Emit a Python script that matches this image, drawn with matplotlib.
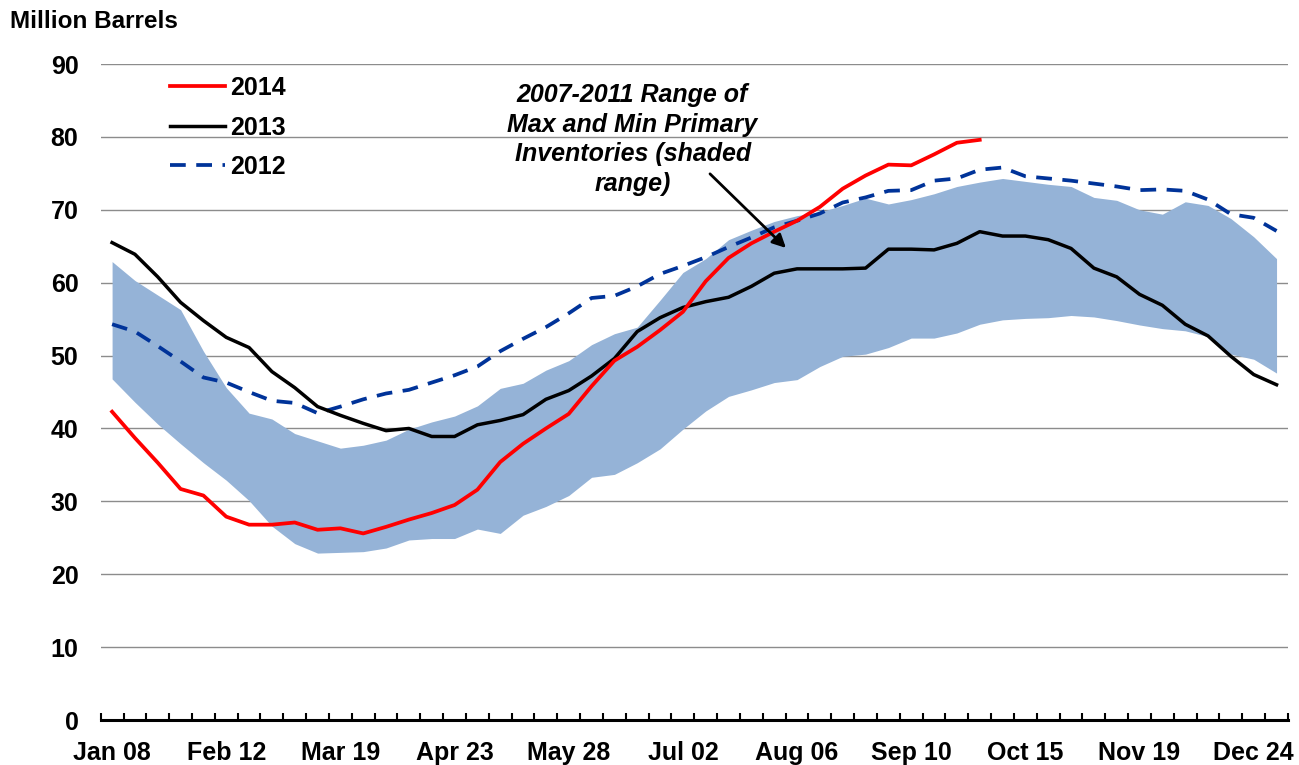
import numpy as np
import matplotlib.pyplot as plt

# weekly primary inventories, million barrels (52 weeks, Jan 08 .. Dec 31)
tick_labels = ['Jan 08', 'Feb 12', 'Mar 19', 'Apr 23', 'May 28', 'Jul 02',
               'Aug 06', 'Sep 10', 'Oct 15', 'Nov 19', 'Dec 24']

range_max = [62.9, 60.3, 58.3, 56.3, 50.6, 45.6, 42.1, 41.3, 39.3, 38.3,
             37.3, 37.7, 38.4, 39.9, 40.9, 41.7, 43.1, 45.5, 46.2, 48.0,
             49.3, 51.5, 53.0, 53.9, 57.6, 61.4, 63.3, 65.9, 67.2, 68.4,
             69.2, 69.7, 70.6, 71.6, 70.8, 71.4, 72.2, 73.2, 73.8, 74.3,
             73.9, 73.5, 73.2, 71.7, 71.3, 70.0, 69.4, 71.1, 70.6, 68.8,
             66.3, 63.3]
range_min = [46.8, 43.6, 40.6, 37.9, 35.3, 32.9, 30.1, 26.6, 24.2, 22.9,
             23.0, 23.1, 23.6, 24.7, 24.9, 24.9, 26.2, 25.6, 28.1, 29.3,
             30.8, 33.3, 33.7, 35.3, 37.2, 39.9, 42.4, 44.4, 45.3, 46.3,
             46.7, 48.5, 49.9, 50.2, 51.1, 52.4, 52.4, 53.1, 54.3, 54.9,
             55.1, 55.2, 55.5, 55.3, 54.8, 54.2, 53.7, 53.4, 52.6, 50.2,
             49.5, 47.6]

inv_2014 = [42.3, 38.7, 35.3, 31.7, 30.8, 27.9, 26.8, 26.8, 27.1, 26.1,
            26.3, 25.6, 26.5, 27.5, 28.4, 29.5, 31.6, 35.4, 37.9, 40.0,
            42.0, 45.8, 49.3, 51.2, 53.5, 56.0, 60.2, 63.4, 65.4, 67.0,
            68.5, 70.4, 72.9, 74.7, 76.2, 76.1, 77.6, 79.2, 79.6]
inv_2013 = [65.5, 63.9, 60.8, 57.3, 54.8, 52.5, 51.1, 47.8, 45.6, 43.0,
            41.8, 40.7, 39.7, 40.0, 38.9, 38.9, 40.5, 41.1, 41.9, 44.0,
            45.2, 47.2, 49.6, 53.3, 55.2, 56.6, 57.4, 58.0, 59.5, 61.3,
            61.9, 61.9, 61.9, 62.0, 64.6, 64.6, 64.5, 65.4, 67.0, 66.4,
            66.4, 65.9, 64.7, 62.0, 60.8, 58.4, 56.9, 54.3, 52.7, 49.9,
            47.4, 46.0]
inv_2012 = [54.3, 53.3, 51.3, 49.2, 47.0, 46.3, 45.0, 43.8, 43.5, 42.1,
            43.0, 44.0, 44.8, 45.3, 46.3, 47.3, 48.5, 50.6, 52.3, 53.9,
            55.8, 57.9, 58.2, 59.5, 61.2, 62.3, 63.5, 64.9, 66.2, 67.6,
            68.5, 69.5, 71.0, 71.7, 72.6, 72.7, 74.0, 74.3, 75.5, 75.8,
            74.6, 74.3, 74.0, 73.6, 73.2, 72.7, 72.8, 72.6, 71.4, 69.4,
            68.9, 67.1]

plt.rcParams['font.family'] = ['Liberation Sans', 'DejaVu Sans']
plt.rcParams['font.weight'] = 'bold'

weeks = np.arange(len(range_max))

fig = plt.figure(figsize=(12.99, 7.65), dpi=100)
ax = fig.add_axes([0.0775, 0.0588, 0.914, 0.8575])

ax.fill_between(weeks, range_min, range_max, color='#95B3D7', lw=0, zorder=2)
ax.plot(np.arange(len(inv_2012)), inv_2012, color='#003399', lw=2.7,
        dashes=(4.2, 2.8), label='2012', zorder=3)
ax.plot(np.arange(len(inv_2013)), inv_2013, color='black', lw=2.5,
        label='2013', zorder=4)
ax.plot(np.arange(len(inv_2014)), inv_2014, color='#FF0000', lw=2.7,
        label='2014', zorder=5)

ax.set_xlim(-0.5, len(weeks) - 0.5)
ax.set_ylim(0, 90)
ax.set_yticks(np.arange(0, 91, 10))
ax.yaxis.grid(True, color='#8C8C8C', lw=1.0)
ax.set_axisbelow(True)

ax.set_xticks(np.arange(0, len(weeks), 5))
ax.set_xticklabels(tick_labels)
ax.set_xticks(np.arange(-0.5, len(weeks), 1), minor=True)
ax.tick_params(axis='x', which='major', length=0, pad=15, labelsize=18)
ax.tick_params(axis='x', which='minor', direction='in', length=5, width=1.5)
ax.tick_params(axis='y', length=0, pad=16, labelsize=18)

for side in ['left', 'right', 'top']:
    ax.spines[side].set_visible(False)
ax.spines['bottom'].set_linewidth(2.2)

fig.text(0.008, 0.972, 'Million Barrels', fontsize=17.5, fontweight='bold',
         ha='left', va='center')

handles, labels = ax.get_legend_handles_labels()
ax.legend(handles[::-1], labels[::-1], loc='upper left',
          bbox_to_anchor=(0.0394, 1.016), frameon=False, fontsize=18,
          handlelength=2.2, handletextpad=0.2, labelspacing=0.62)

ax.text(0.448, 0.885, '2007-2011 Range of\nMax and Min Primary\nInventories (shaded\nrange)',
        transform=ax.transAxes, ha='center', va='center', fontsize=18,
        fontweight='bold', fontstyle='italic', linespacing=1.29)
ax.annotate('', xy=(29.6, 64.5), xytext=(26.1, 75.2),
            arrowprops=dict(arrowstyle='-|>', color='black', lw=2,
                            mutation_scale=20), zorder=6)

fig.savefig('out.png', dpi=100)
